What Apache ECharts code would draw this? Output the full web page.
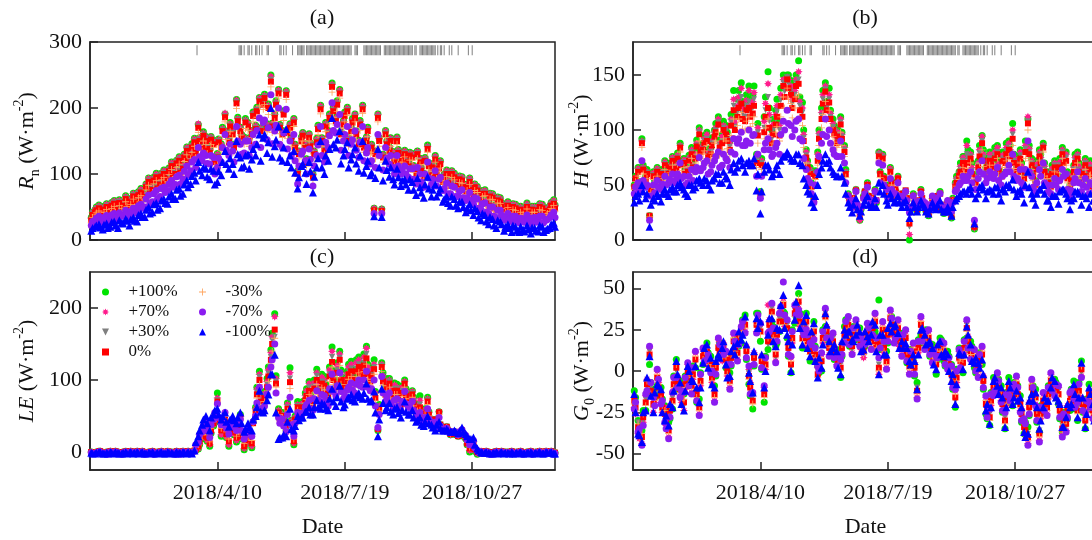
<!DOCTYPE html>
<html>
<head>
<meta charset="utf-8">
<script src="https://cdn.jsdelivr.net/npm/echarts@6.0.0/dist/echarts.min.js"></script>
<style>
  html, body { margin: 0; padding: 0; background: #fff; }
  #chart { width: 1092px; height: 540px; }
</style>
</head>
<body>
<div id="chart"></div>
<script>
// day of year (2018): two interleaved sample sets
var days = [
  1, 4, 7, 10, 13, 16, 19, 22, 25, 28,
  31, 34, 37, 40, 43, 46, 49, 52, 55, 58,
  61, 64, 67, 70, 73, 76, 79, 82, 85, 88,
  91, 94, 97, 100, 103, 106, 109, 112, 115, 118,
  121, 124, 127, 130, 133, 136, 139, 142, 145, 148,
  151, 154, 157, 160, 163, 166, 169, 172, 175, 178,
  181, 184, 187, 190, 193, 196, 199, 202, 205, 208,
  211, 214, 217, 220, 223, 226, 229, 232, 235, 238,
  241, 244, 247, 250, 253, 256, 259, 262, 265, 268,
  271, 274, 277, 280, 283, 286, 289, 292, 295, 298,
  301, 304, 307, 310, 313, 316, 319, 322, 325, 328,
  331, 334, 337, 340, 343, 346, 349, 352, 355, 358,
  361, 364
];
var daysMid = [
  2, 5, 8, 11, 14, 17, 20, 23, 26, 29,
  32, 35, 38, 41, 44, 47, 50, 53, 56, 59,
  62, 65, 68, 71, 74, 77, 80, 83, 86, 89,
  92, 95, 98, 101, 104, 107, 110, 113, 116, 119,
  122, 125, 128, 131, 134, 137, 140, 143, 146, 149,
  152, 155, 158, 161, 164, 167, 170, 173, 176, 179,
  182, 185, 188, 191, 194, 197, 200, 203, 206, 209,
  212, 215, 218, 221, 224, 227, 230, 233, 236, 239,
  242, 245, 248, 251, 254, 257, 260, 263, 266, 269,
  272, 275, 278, 281, 284, 287, 290, 293, 296, 299,
  302, 305, 308, 311, 314, 317, 320, 323, 326, 329,
  332, 335, 338, 341, 344, 347, 350, 353, 356, 359,
  362, 365
];
var tickDays = [100, 200, 300];
var tickLabels = ['2018/4/10', '2018/7/19', '2018/10/27'];

// rain days (rug at top of panels a and b)
var rainDays = [84, 117, 118, 119, 121, 124, 125, 127, 130, 131, 133, 135, 139, 140, 149, 150, 152, 154, 159,
  163, 164, 165, 166, 167, 168, 170, 171, 172, 173, 174, 175, 176, 177, 178, 179, 180, 181, 182, 183, 184, 185,
  186, 187, 188, 189, 190, 191, 192, 193, 194, 195, 196, 197, 198, 199, 200, 201, 202, 203, 204, 205, 208, 209,
  210, 215, 216, 217, 218, 219, 220, 221, 222, 223, 224, 225, 226, 227, 228, 231, 232, 233, 234, 235, 236, 237,
  238, 239, 240, 241, 242, 243, 244, 245, 246, 247, 248, 249, 250, 251, 252, 253, 255, 256, 259, 260, 261, 262,
  263, 264, 265, 266, 267, 268, 269, 270, 271, 273, 275, 276, 278, 282, 284, 289, 297, 300];

// ---------- (a) Rn ----------
var rnP100 = [
  34, 46, 53, 40, 55, 48, 60, 44, 57, 67,
  52, 71, 63, 78, 70, 94, 81, 101, 89, 106,
  97, 118, 106, 126, 114, 141, 134, 154, 175, 146,
  157, 138, 151, 131, 146, 191, 154, 166, 213, 171,
  156, 178, 166, 174, 216, 211, 176, 250, 191, 228,
  166, 226, 176, 184, 105, 156, 146, 161, 100, 154,
  204, 141, 166, 238, 186, 228, 181, 201, 171, 191,
  151, 204, 156, 141, 48, 191, 47, 166, 141, 134,
  156, 124, 136, 118, 131, 106, 124, 101, 144, 104,
  128, 114, 94, 106, 88, 101, 84, 96, 78, 94,
  72, 81, 64, 76, 58, 70, 51, 64, 46, 58,
  44, 54, 42, 48, 56, 40, 51, 44, 54, 46,
  52, 61
];
var rnP70 = [
  33, 45, 52, 39, 54, 47, 59, 43, 56, 66,
  51, 70, 62, 77, 69, 93, 80, 100, 88, 105,
  96, 117, 105, 125, 113, 140, 133, 153, 176, 145,
  156, 137, 150, 130, 145, 192, 153, 165, 212, 170,
  155, 177, 165, 173, 215, 210, 175, 248, 190, 227,
  165, 225, 175, 183, 104, 155, 145, 160, 99, 153,
  203, 140, 165, 236, 185, 227, 180, 200, 170, 190,
  150, 203, 155, 140, 48, 190, 47, 165, 140, 133,
  155, 123, 135, 117, 130, 105, 123, 100, 142, 103,
  127, 113, 93, 105, 87, 100, 83, 95, 77, 93,
  71, 80, 63, 75, 57, 69, 50, 63, 45, 57,
  43, 53, 41, 47, 55, 39, 50, 43, 53, 45,
  51, 60
];
var rnP30 = [
  31, 44, 50, 38, 52, 46, 57, 42, 54, 64,
  50, 68, 60, 74, 67, 90, 78, 97, 86, 102,
  94, 114, 102, 122, 110, 137, 130, 150, 172, 142,
  152, 134, 147, 127, 142, 188, 150, 162, 209, 167,
  152, 174, 162, 170, 212, 207, 172, 243, 187, 224,
  162, 222, 172, 180, 102, 152, 142, 157, 97, 150,
  200, 137, 162, 234, 182, 224, 177, 197, 167, 187,
  147, 200, 152, 137, 46, 187, 45, 162, 137, 130,
  152, 120, 132, 114, 127, 102, 120, 97, 140, 100,
  124, 110, 90, 102, 84, 97, 80, 92, 74, 90,
  68, 77, 60, 72, 54, 66, 47, 60, 42, 54,
  40, 50, 38, 44, 52, 36, 47, 40, 50, 42,
  48, 57
];
var rnZero = [
  30, 42, 48, 36, 50, 44, 55, 40, 52, 62,
  48, 66, 58, 72, 65, 88, 76, 95, 84, 100,
  92, 112, 100, 120, 108, 135, 128, 148, 170, 140,
  150, 132, 145, 125, 140, 186, 148, 160, 207, 165,
  150, 172, 160, 168, 210, 205, 170, 240, 185, 222,
  160, 220, 170, 178, 100, 150, 140, 155, 95, 148,
  198, 135, 160, 232, 180, 222, 175, 195, 165, 185,
  145, 198, 150, 135, 45, 185, 44, 160, 135, 128,
  150, 118, 130, 112, 125, 100, 118, 95, 138, 98,
  122, 108, 88, 100, 82, 95, 78, 90, 72, 88,
  66, 75, 58, 70, 52, 64, 45, 58, 40, 52,
  38, 48, 36, 42, 50, 34, 45, 38, 48, 40,
  46, 55
];
var rnM30 = [
  26, 38, 44, 33, 46, 40, 51, 37, 48, 58,
  44, 62, 54, 67, 61, 83, 72, 90, 80, 95,
  88, 107, 96, 115, 103, 129, 123, 142, 163, 135,
  145, 127, 140, 121, 135, 179, 143, 155, 199, 159,
  145, 166, 155, 162, 203, 198, 164, 232, 179, 215,
  155, 213, 165, 172, 96, 145, 135, 150, 91, 143,
  191, 130, 155, 224, 174, 215, 169, 189, 159, 179,
  140, 192, 145, 130, 43, 179, 42, 155, 130, 123,
  145, 114, 126, 108, 121, 96, 114, 92, 133, 95,
  118, 104, 85, 96, 79, 91, 75, 86, 69, 84,
  63, 72, 55, 67, 49, 61, 42, 55, 37, 49,
  35, 45, 33, 39, 47, 31, 42, 35, 45, 37,
  43, 52
];
var rnM70 = [
  22, 30, 36, 27, 37, 32, 40, 30, 38, 45,
  35, 48, 43, 54, 50, 68, 58, 75, 66, 80,
  75, 90, 84, 98, 92, 112, 105, 122, 140, 120,
  128, 115, 125, 110, 118, 160, 128, 135, 172, 145,
  132, 150, 140, 145, 185, 178, 152, 220, 165, 200,
  140, 198, 150, 160, 85, 130, 120, 138, 82, 128,
  172, 118, 140, 208, 162, 190, 150, 172, 145, 165,
  125, 172, 132, 115, 40, 160, 40, 140, 115, 110,
  128, 100, 112, 95, 108, 85, 100, 80, 118, 84,
  105, 92, 75, 86, 70, 80, 66, 76, 60, 72,
  54, 62, 46, 56, 40, 50, 34, 45, 30, 40,
  28, 36, 26, 32, 38, 25, 34, 28, 36, 30,
  34, 42
];
var rnM100 = [
  14, 20, 24, 16, 25, 20, 28, 18, 26, 32,
  22, 34, 28, 40, 35, 50, 42, 56, 48, 62,
  55, 70, 62, 78, 70, 90, 85, 102, 118, 98,
  108, 92, 105, 88, 98, 135, 108, 115, 150, 125,
  112, 130, 122, 128, 160, 155, 132, 200, 142, 172,
  120, 168, 128, 135, 78, 112, 102, 118, 72, 110,
  150, 100, 120, 185, 140, 165, 128, 148, 122, 140,
  105, 150, 112, 98, 36, 138, 35, 120, 96, 92,
  108, 82, 92, 76, 88, 68, 80, 64, 96, 66,
  84, 72, 58, 66, 52, 62, 48, 58, 42, 54,
  38, 44, 30, 38, 24, 32, 18, 28, 14, 24,
  12, 20, 12, 16, 22, 10, 18, 13, 20, 15,
  18, 26
];
var rnP100Mid = [
  42, 50, 44, 51, 43, 57, 51, 61, 53, 60,
  63, 59, 73, 67, 85, 75, 95, 83, 101, 93,
  109, 101, 121, 107, 130, 123, 146, 137, 155, 164,
  143, 157, 123, 153, 171, 165, 178, 145, 186, 160,
  184, 155, 194, 201, 170, 221, 206, 177, 211, 175,
  196, 167, 155, 145, 135, 163, 123, 147, 135, 174,
  155, 178, 191, 201, 211, 165, 194, 155, 184, 165,
  181, 145, 171, 145, 135, 155, 130, 150, 155, 123,
  137, 130, 123, 133, 113, 135, 110, 125, 117, 115,
  103, 120, 100, 91, 105, 87, 97, 85, 85, 81,
  85, 67, 75, 60, 71, 53, 65, 57, 51, 50,
  55, 45, 51, 43, 47, 51, 43, 55, 41, 49,
  57, 53
];
var rnP70Mid = [
  42, 49, 44, 50, 42, 56, 50, 60, 52, 59,
  62, 58, 72, 66, 84, 74, 94, 82, 100, 92,
  108, 100, 120, 106, 129, 122, 144, 136, 154, 162,
  142, 156, 122, 152, 169, 164, 176, 144, 184, 159,
  182, 154, 192, 199, 169, 219, 204, 176, 209, 174,
  194, 166, 154, 144, 134, 162, 122, 146, 134, 172,
  154, 176, 189, 199, 209, 164, 192, 154, 182, 164,
  179, 144, 169, 144, 134, 154, 129, 149, 154, 122,
  136, 129, 122, 132, 112, 134, 109, 124, 116, 114,
  102, 119, 99, 90, 104, 86, 96, 84, 84, 80,
  84, 66, 74, 59, 70, 52, 64, 56, 50, 49,
  54, 44, 50, 42, 46, 50, 42, 54, 40, 48,
  56, 52
];
var rnP30Mid = [
  40, 47, 42, 48, 40, 54, 48, 58, 50, 57,
  60, 56, 70, 64, 82, 72, 92, 80, 98, 90,
  106, 98, 118, 104, 127, 120, 142, 134, 152, 160,
  140, 154, 120, 150, 167, 162, 174, 142, 182, 157,
  180, 152, 190, 197, 167, 217, 202, 174, 207, 172,
  192, 164, 152, 142, 132, 160, 120, 144, 132, 170,
  152, 174, 187, 197, 207, 162, 190, 152, 180, 162,
  177, 142, 167, 142, 132, 152, 127, 147, 152, 120,
  134, 127, 120, 130, 110, 132, 107, 122, 114, 112,
  100, 117, 97, 88, 102, 84, 94, 82, 82, 78,
  82, 64, 72, 57, 68, 50, 62, 54, 48, 47,
  52, 42, 48, 40, 44, 48, 40, 52, 38, 46,
  54, 50
];
var rnZeroMid = [
  38, 45, 40, 46, 38, 52, 46, 56, 48, 55,
  58, 54, 68, 62, 80, 70, 90, 78, 96, 88,
  104, 96, 116, 102, 125, 118, 140, 132, 150, 158,
  138, 152, 118, 148, 165, 160, 172, 140, 180, 155,
  178, 150, 188, 195, 165, 215, 200, 172, 205, 170,
  190, 162, 150, 140, 130, 158, 118, 142, 130, 168,
  150, 172, 185, 195, 205, 160, 188, 150, 178, 160,
  175, 140, 165, 140, 130, 150, 125, 145, 150, 118,
  132, 125, 118, 128, 108, 130, 105, 120, 112, 110,
  98, 115, 95, 86, 100, 82, 92, 80, 80, 76,
  80, 62, 70, 55, 66, 48, 60, 52, 46, 45,
  50, 40, 46, 38, 42, 46, 38, 50, 36, 44,
  52, 48
];
var rnM30Mid = [
  34, 41, 36, 42, 34, 48, 42, 52, 44, 51,
  54, 50, 64, 58, 76, 66, 85, 74, 91, 84,
  99, 91, 110, 97, 119, 112, 133, 125, 143, 150,
  131, 145, 112, 141, 157, 152, 164, 133, 171, 147,
  169, 142, 179, 186, 157, 205, 190, 163, 195, 161,
  181, 154, 142, 133, 123, 150, 112, 135, 123, 160,
  142, 164, 176, 186, 195, 152, 179, 142, 169, 152,
  166, 133, 157, 133, 123, 142, 118, 138, 142, 112,
  125, 118, 112, 121, 102, 123, 99, 114, 106, 104,
  93, 109, 90, 81, 95, 77, 87, 75, 75, 72,
  75, 58, 66, 51, 62, 44, 56, 48, 42, 41,
  46, 36, 42, 34, 38, 42, 34, 46, 32, 40,
  48, 44
];
var rnM70Mid = [
  28, 33, 29, 34, 28, 38, 34, 41, 36, 41,
  43, 41, 52, 48, 62, 55, 70, 62, 78, 72,
  85, 80, 96, 85, 104, 98, 118, 110, 126, 132,
  116, 128, 100, 124, 140, 136, 145, 118, 150, 130,
  150, 128, 160, 166, 140, 182, 170, 146, 174, 145,
  162, 138, 128, 120, 112, 135, 100, 122, 112, 144,
  128, 148, 158, 166, 175, 136, 160, 128, 152, 136,
  148, 120, 140, 120, 110, 128, 106, 124, 128, 100,
  112, 106, 100, 108, 92, 110, 88, 100, 94, 92,
  82, 95, 78, 70, 82, 66, 74, 64, 64, 60,
  64, 48, 55, 42, 50, 36, 45, 38, 34, 32,
  36, 28, 33, 27, 30, 33, 27, 36, 26, 31,
  38, 34
];
var rnM100Mid = [
  18, 22, 19, 23, 18, 27, 22, 30, 25, 29,
  31, 29, 38, 35, 46, 40, 54, 46, 60, 56,
  66, 62, 76, 67, 84, 80, 97, 90, 105, 110,
  96, 108, 84, 104, 118, 115, 124, 100, 130, 110,
  128, 108, 138, 145, 120, 160, 148, 126, 152, 125,
  140, 118, 110, 102, 95, 115, 85, 104, 96, 124,
  110, 128, 138, 145, 152, 116, 138, 110, 130, 116,
  128, 102, 120, 102, 94, 110, 90, 106, 110, 84,
  95, 90, 84, 92, 76, 94, 72, 84, 78, 76,
  66, 78, 62, 56, 66, 52, 58, 50, 48, 45,
  48, 34, 40, 28, 35, 22, 30, 24, 20, 18,
  22, 14, 20, 13, 16, 19, 14, 22, 12, 17,
  24, 20
];

// ---------- (b) H ----------
var hP100 = [
  50, 66, 92, 58, 22, 62, 66, 55, 72, 64,
  76, 70, 88, 74, 66, 84, 80, 102, 88, 98,
  84, 100, 112, 96, 104, 90, 136, 128, 143, 124,
  140, 132, 78, 44, 112, 153, 100, 118, 108, 150,
  150, 145, 140, 163, 125, 82, 66, 38, 80, 120,
  143, 138, 110, 96, 112, 86, 42, 30, 46, 18,
  40, 52, 30, 46, 80, 78, 50, 66, 38, 58,
  34, 44, 0, 42, 26, 46, 30, 22, 38, 28,
  44, 24, 34, 20, 52, 62, 76, 90, 80, 10,
  72, 95, 66, 80, 70, 86, 62, 76, 90, 106,
  68, 82, 60, 110, 74, 54, 82, 88, 62, 52,
  72, 58, 84, 80, 50, 68, 80, 56, 74, 52,
  64, 60
];
var hP70 = [
  49, 65, 90, 57, 21, 61, 65, 54, 71, 63,
  75, 68, 86, 73, 65, 82, 78, 100, 86, 96,
  82, 98, 110, 94, 102, 88, 128, 122, 138, 118,
  136, 126, 76, 43, 108, 142, 96, 114, 104, 146,
  148, 140, 136, 153, 120, 80, 64, 37, 78, 116,
  140, 132, 106, 93, 110, 84, 41, 29, 46, 18,
  39, 51, 30, 45, 79, 77, 49, 65, 38, 57,
  34, 44, 5, 41, 27, 45, 31, 23, 38, 29,
  43, 25, 34, 21, 51, 61, 75, 86, 78, 11,
  70, 94, 64, 78, 68, 84, 60, 74, 88, 100,
  66, 80, 58, 112, 72, 53, 80, 86, 61, 51,
  70, 57, 82, 78, 49, 66, 78, 55, 72, 51,
  63, 58
];
var hP30 = [
  48, 63, 89, 56, 22, 59, 63, 53, 69, 61,
  73, 66, 85, 71, 63, 80, 76, 98, 84, 92,
  80, 96, 107, 90, 99, 85, 122, 116, 130, 112,
  126, 120, 73, 42, 102, 130, 92, 110, 100, 143,
  148, 136, 132, 146, 116, 77, 62, 36, 75, 113,
  137, 128, 103, 90, 107, 82, 40, 30, 45, 20,
  38, 50, 31, 44, 78, 76, 48, 63, 39, 56,
  35, 45, 12, 40, 28, 44, 32, 24, 38, 30,
  42, 26, 34, 22, 50, 60, 72, 78, 76, 12,
  68, 90, 62, 74, 66, 80, 59, 72, 84, 96,
  64, 77, 57, 108, 70, 51, 78, 85, 60, 49,
  68, 55, 80, 75, 47, 64, 76, 53, 70, 49,
  62, 56
];
var hZero = [
  48, 62, 88, 55, 22, 58, 62, 52, 68, 60,
  72, 65, 84, 70, 62, 78, 74, 96, 82, 90,
  78, 94, 105, 88, 96, 82, 118, 112, 124, 108,
  120, 115, 70, 42, 98, 120, 88, 105, 95, 140,
  146, 132, 128, 142, 112, 75, 60, 36, 72, 110,
  135, 125, 100, 88, 105, 80, 40, 30, 45, 22,
  38, 50, 32, 44, 76, 74, 48, 62, 40, 56,
  35, 45, 15, 40, 28, 44, 32, 24, 38, 30,
  42, 26, 34, 22, 48, 58, 70, 62, 74, 12,
  66, 88, 60, 72, 64, 78, 58, 70, 82, 92,
  62, 74, 56, 106, 68, 50, 76, 84, 58, 48,
  66, 54, 78, 72, 46, 62, 74, 52, 68, 48,
  60, 55
];
var hM30 = [
  46, 58, 84, 52, 21, 55, 58, 49, 64, 57,
  68, 61, 80, 66, 58, 74, 70, 90, 78, 86,
  74, 88, 98, 82, 90, 78, 110, 104, 116, 100,
  112, 106, 66, 40, 92, 110, 84, 98, 90, 130,
  138, 124, 120, 132, 104, 70, 56, 35, 68, 102,
  126, 118, 94, 84, 98, 76, 38, 29, 43, 22,
  36, 48, 32, 42, 72, 70, 46, 58, 40, 53,
  35, 44, 18, 38, 28, 42, 32, 25, 37, 30,
  40, 27, 33, 23, 46, 55, 66, 58, 70, 14,
  62, 82, 57, 68, 61, 74, 55, 66, 76, 86,
  59, 70, 53, 100, 64, 48, 72, 80, 56, 46,
  62, 51, 74, 68, 44, 58, 70, 50, 64, 46,
  57, 52
];
var hM70 = [
  42, 52, 72, 48, 18, 50, 54, 46, 58, 52,
  60, 55, 70, 58, 52, 64, 62, 75, 66, 72,
  62, 72, 80, 68, 74, 66, 92, 88, 98, 86,
  100, 95, 58, 38, 82, 92, 76, 84, 78, 108,
  118, 104, 100, 110, 90, 64, 52, 34, 62, 88,
  110, 100, 82, 76, 90, 70, 40, 30, 44, 26,
  38, 48, 34, 44, 70, 68, 46, 56, 42, 52,
  38, 44, 25, 40, 30, 42, 34, 28, 40, 32,
  42, 30, 36, 26, 44, 50, 58, 54, 62, 18,
  56, 72, 52, 62, 56, 66, 50, 60, 68, 78,
  54, 64, 48, 90, 58, 44, 64, 70, 50, 42,
  56, 46, 64, 60, 40, 52, 62, 44, 56, 42,
  50, 46
];
var hM100 = [
  34, 42, 50, 38, 12, 38, 42, 35, 46, 40,
  48, 44, 52, 46, 40, 50, 48, 56, 50, 54,
  46, 56, 60, 52, 58, 50, 70, 66, 74, 62,
  72, 68, 45, 24, 62, 68, 58, 64, 60, 76,
  80, 74, 72, 78, 68, 50, 42, 30, 50, 66,
  78, 72, 62, 58, 66, 52, 34, 25, 38, 22,
  32, 40, 30, 38, 52, 50, 36, 42, 34, 40,
  30, 36, 20, 34, 26, 36, 30, 24, 34, 28,
  36, 26, 30, 22, 36, 40, 44, 42, 48, 15,
  42, 50, 38, 46, 42, 48, 36, 44, 50, 55,
  40, 46, 34, 62, 42, 32, 46, 50, 36, 30,
  40, 33, 46, 42, 28, 38, 44, 32, 40, 30,
  36, 33
];
var hP100Mid = [
  58, 53, 68, 64, 48, 54, 60, 64, 62, 70,
  66, 79, 72, 64, 77, 70, 91, 86, 95, 82,
  93, 106, 91, 108, 98, 114, 112, 136, 126, 132,
  128, 140, 106, 74, 130, 120, 110, 128, 138, 146,
  150, 134, 150, 130, 100, 72, 52, 63, 100, 136,
  126, 118, 104, 100, 98, 64, 37, 38, 30, 28,
  44, 40, 36, 34, 62, 58, 40, 54, 45, 40,
  42, 36, 28, 32, 34, 36, 26, 30, 32, 40,
  30, 28, 26, 38, 58, 70, 76, 82, 70, 60,
  86, 82, 76, 76, 84, 72, 80, 88, 86, 78,
  76, 70, 90, 86, 64, 72, 78, 70, 58, 68,
  66, 74, 78, 62, 60, 78, 70, 66, 64, 72,
  58, 64
];
var hP70Mid = [
  57, 52, 66, 62, 47, 52, 58, 62, 60, 68,
  64, 77, 70, 62, 75, 68, 88, 83, 92, 79,
  90, 102, 88, 104, 95, 110, 107, 130, 120, 127,
  122, 134, 102, 72, 124, 114, 105, 122, 132, 140,
  146, 128, 146, 126, 96, 70, 50, 61, 97, 132,
  123, 115, 101, 98, 96, 62, 36, 38, 31, 29,
  44, 40, 37, 35, 61, 57, 40, 53, 46, 41,
  42, 37, 29, 33, 35, 37, 27, 31, 33, 40,
  31, 29, 27, 37, 56, 67, 72, 78, 66, 57,
  82, 78, 72, 73, 80, 69, 77, 84, 82, 75,
  73, 67, 86, 83, 62, 69, 75, 67, 56, 65,
  64, 71, 75, 60, 58, 75, 67, 64, 62, 69,
  56, 62
];
var hP30Mid = [
  56, 51, 65, 61, 46, 51, 57, 61, 59, 67,
  63, 75, 69, 61, 73, 67, 86, 81, 90, 77,
  88, 100, 86, 102, 92, 107, 103, 125, 115, 122,
  117, 128, 98, 70, 118, 108, 100, 117, 127, 135,
  142, 124, 143, 122, 93, 68, 49, 60, 94, 128,
  120, 112, 98, 96, 94, 61, 36, 38, 32, 30,
  44, 40, 38, 36, 60, 56, 40, 52, 46, 42,
  42, 38, 30, 34, 36, 38, 28, 32, 34, 40,
  32, 30, 28, 36, 54, 64, 68, 74, 63, 54,
  79, 75, 69, 70, 77, 66, 74, 81, 79, 72,
  70, 64, 83, 80, 60, 66, 72, 64, 54, 62,
  62, 68, 72, 58, 56, 72, 64, 62, 60, 66,
  54, 60
];
var hZeroMid = [
  56, 50, 64, 60, 45, 50, 56, 60, 58, 66,
  62, 74, 68, 60, 72, 66, 85, 80, 88, 76,
  86, 98, 84, 100, 90, 104, 100, 120, 110, 118,
  112, 122, 95, 68, 112, 102, 96, 112, 122, 130,
  138, 120, 140, 118, 90, 66, 48, 58, 92, 124,
  118, 110, 96, 94, 92, 60, 35, 38, 32, 30,
  44, 40, 38, 36, 60, 56, 40, 52, 46, 42,
  42, 38, 30, 34, 36, 38, 28, 32, 34, 40,
  32, 30, 28, 36, 52, 62, 66, 70, 60, 52,
  76, 72, 66, 68, 74, 64, 72, 78, 76, 70,
  68, 62, 80, 78, 58, 64, 70, 62, 52, 60,
  60, 66, 70, 56, 54, 70, 62, 60, 58, 64,
  52, 58
];
var hM30Mid = [
  53, 48, 60, 56, 43, 47, 52, 56, 54, 61,
  58, 69, 63, 56, 67, 61, 78, 74, 81, 70,
  79, 90, 77, 92, 83, 95, 92, 110, 101, 108,
  103, 112, 88, 64, 102, 94, 88, 103, 112, 120,
  128, 111, 130, 109, 84, 62, 46, 55, 86, 114,
  109, 102, 89, 87, 86, 57, 35, 37, 32, 30,
  42, 39, 37, 35, 57, 53, 39, 50, 44, 41,
  40, 37, 30, 33, 35, 37, 28, 31, 33, 38,
  32, 30, 28, 35, 49, 58, 61, 65, 56, 49,
  70, 67, 61, 63, 68, 59, 66, 72, 70, 65,
  63, 58, 74, 72, 54, 59, 65, 58, 49, 56,
  56, 61, 65, 52, 50, 65, 58, 56, 54, 59,
  49, 54
];
var hM70Mid = [
  48, 44, 54, 50, 40, 43, 48, 51, 50, 55,
  52, 60, 56, 50, 58, 54, 66, 63, 70, 60,
  68, 76, 66, 78, 72, 80, 78, 92, 86, 90,
  88, 96, 78, 58, 88, 82, 78, 88, 96, 100,
  106, 94, 108, 92, 74, 56, 42, 50, 76, 96,
  94, 88, 78, 76, 76, 52, 34, 36, 32, 30,
  42, 38, 36, 36, 52, 50, 38, 46, 42, 40,
  40, 36, 30, 34, 35, 36, 30, 32, 34, 38,
  32, 30, 30, 34, 46, 52, 54, 58, 52, 46,
  62, 60, 56, 57, 60, 54, 58, 62, 62, 58,
  56, 52, 64, 62, 48, 52, 58, 52, 44, 50,
  50, 54, 58, 46, 45, 56, 52, 50, 48, 52,
  44, 48
];
var hM100Mid = [
  40, 36, 44, 42, 32, 36, 40, 42, 42, 46,
  44, 50, 48, 42, 50, 46, 54, 52, 56, 50,
  54, 60, 52, 62, 56, 64, 62, 72, 68, 70,
  68, 74, 60, 44, 68, 64, 60, 68, 72, 76,
  78, 72, 78, 70, 56, 44, 34, 40, 60, 72,
  70, 66, 60, 58, 58, 42, 30, 32, 28, 26,
  36, 32, 32, 30, 44, 42, 32, 38, 36, 34,
  34, 30, 26, 30, 30, 32, 26, 28, 30, 32,
  28, 26, 26, 30, 38, 42, 44, 46, 42, 38,
  48, 46, 44, 45, 48, 42, 46, 50, 48, 46,
  44, 42, 50, 48, 38, 42, 46, 42, 36, 40,
  40, 44, 46, 38, 36, 44, 42, 40, 38, 42,
  36, 38
];

// ---------- (c) LE ----------
var leP100 = [
  0, -1, 1, -1, 0, 1, -1, 0, -1, 1,
  0, -1, 1, 0, -1, 0, 1, -1, 0, -1,
  1, 0, -1, 0, 1, -1, 0, 2, 4, 18,
  28, 8, 36, 82, 22, 40, 8, 34, 14, 52,
  3, 20, 6, 62, 112, 64, 102, 142, 192, 60,
  55, 30, 117, 10, 70, 62, 82, 98, 72, 115,
  92, 105, 84, 146, 100, 140, 94, 112, 126, 104,
  132, 118, 147, 110, 128, 30, 124, 90, 102, 78,
  94, 70, 100, 74, 85, 58, 78, 42, 76, 46,
  36, 56, 30, 35, 24, 28, 22, 28, 18, 0,
  8, -3, 0, -1, 0, -1, 1, 0, -1, 0,
  1, -1, 0, -1, 0, 1, -1, 0, -1, 1,
  0, -1
];
var leP70 = [
  0, -1, 0, -2, 0, 1, -1, 0, -1, 0,
  0, -1, 1, 0, -1, 0, 1, -1, 0, -1,
  0, 0, -1, 0, 1, -1, 0, 1, 5, 20,
  30, 10, 38, 75, 24, 42, 10, 36, 16, 50,
  5, 22, 8, 60, 108, 62, 98, 138, 188, 58,
  52, 34, 110, 12, 66, 58, 78, 95, 70, 110,
  88, 100, 80, 140, 96, 136, 90, 108, 122, 100,
  128, 112, 144, 106, 122, 31, 122, 86, 100, 76,
  90, 68, 98, 72, 84, 57, 72, 41, 74, 46,
  36, 56, 30, 35, 24, 28, 22, 29, 19, 2,
  10, -2, 1, -1, 0, -1, 1, 0, -1, 0,
  1, -1, 0, -1, 0, 1, -1, 0, -1, 1,
  0, -1
];
var leP30 = [
  0, -1, 1, -1, 0, 1, -1, 0, -2, 1,
  0, -1, 1, 0, -1, 0, 1, -1, 0, -1,
  1, 0, -1, 0, 1, -1, 0, 1, 7, 21,
  33, 11, 40, 72, 28, 44, 13, 37, 18, 49,
  6, 24, 10, 57, 104, 61, 94, 132, 160, 56,
  51, 36, 102, 14, 64, 56, 75, 90, 68, 106,
  84, 96, 78, 132, 93, 131, 88, 104, 116, 98,
  122, 108, 136, 102, 118, 32, 120, 83, 98, 74,
  88, 67, 96, 71, 82, 56, 66, 40, 72, 45,
  35, 55, 30, 35, 25, 28, 22, 30, 20, 4,
  11, -1, 1, -1, 0, -1, 1, 0, -1, 0,
  1, -1, 0, -1, 0, 1, -1, 0, -1, 1,
  0, -1
];
var leZero = [
  0, -1, 1, -2, 0, 1, -1, 0, -2, 1,
  0, -1, 1, 0, -2, 0, 1, -1, 0, -1,
  1, 0, -2, 0, 1, -1, 0, 2, 8, 22,
  35, 12, 40, 70, 30, 45, 15, 38, 20, 48,
  8, 25, 12, 55, 100, 60, 90, 128, 170, 55,
  50, 38, 97, 15, 62, 55, 72, 85, 65, 100,
  80, 92, 75, 125, 90, 128, 85, 100, 112, 95,
  118, 105, 130, 98, 115, 32, 118, 80, 95, 72,
  85, 65, 95, 70, 80, 55, 62, 40, 70, 45,
  35, 55, 30, 35, 25, 28, 22, 30, 20, 5,
  12, 0, 1, -1, 0, -2, 1, 0, -1, 0,
  1, -1, 0, -2, 0, 1, -1, 0, -1, 1,
  0, -2
];
var leM30 = [
  0, -1, 1, -2, 0, 1, -1, 0, -2, 1,
  0, -1, 1, 0, -2, 0, 1, -1, 0, -1,
  1, 0, -2, 0, 1, -1, 0, 2, 10, 24,
  38, 14, 42, 66, 33, 46, 18, 40, 22, 47,
  12, 27, 16, 52, 94, 58, 85, 122, 158, 52,
  48, 30, 88, 18, 58, 52, 68, 80, 62, 94,
  76, 86, 70, 118, 85, 120, 80, 94, 105, 90,
  110, 98, 122, 92, 108, 33, 112, 76, 90, 68,
  80, 62, 90, 66, 76, 52, 58, 40, 66, 43,
  34, 52, 30, 34, 26, 28, 23, 30, 21, 7,
  14, 1, 1, -1, 0, -2, 1, 0, -1, 0,
  1, -1, 0, -2, 0, 1, -1, 0, -1, 1,
  0, -2
];
var leM70 = [
  -1, -2, 0, -2, -1, 0, -2, -1, -3, 0,
  -1, -2, 0, -1, -3, -1, 0, -2, -1, -2,
  0, -1, -3, -1, 0, -2, -1, 1, 14, 28,
  42, 20, 45, 67, 38, 55, 25, 44, 30, 45,
  18, 32, 22, 50, 90, 56, 80, 118, 150, 48,
  46, 28, 76, 22, 55, 50, 62, 72, 58, 85,
  70, 78, 64, 108, 78, 110, 74, 86, 96, 82,
  100, 90, 112, 85, 100, 34, 105, 70, 82, 62,
  74, 58, 84, 62, 70, 48, 55, 38, 60, 42,
  32, 48, 30, 33, 27, 28, 24, 31, 23, 10,
  16, 2, 0, -2, -1, -3, 0, -1, -2, -1,
  0, -2, -1, -3, -1, 0, -2, -1, -2, 0,
  -1, -3
];
var leM100 = [
  -1, -2, 0, -2, -1, 0, -2, -1, -2, 0,
  -1, -2, 0, -1, -2, -1, 0, -2, -1, -2,
  0, -1, -2, -1, 0, -2, -1, 2, 22, 38,
  50, 30, 52, 60, 45, 55, 35, 50, 40, 55,
  28, 40, 30, 50, 85, 55, 72, 108, 135, 18,
  20, 22, 60, 30, 50, 48, 56, 62, 52, 72,
  60, 66, 58, 88, 64, 92, 62, 74, 80, 70,
  82, 74, 95, 70, 84, 22, 88, 58, 68, 52,
  62, 48, 70, 52, 58, 42, 48, 36, 50, 38,
  30, 42, 30, 32, 28, 30, 26, 34, 25, 18,
  20, 5, 0, -1, -1, -2, 0, -1, -2, -1,
  0, -2, -1, -2, -1, 0, -2, -1, -2, 0,
  -1, -2
];
var leP100Mid = [
  -1, 0, 1, -1, -1, 0, 1, -1, 0, -1,
  1, 0, -1, 1, -1, 0, -1, 0, 1, -1,
  0, -1, 1, -1, 0, 1, -1, 2, 10, 24,
  15, 26, 50, 42, 34, 20, 26, 24, 32, 18,
  10, 14, 42, 90, 78, 84, 118, 165, 106, 50,
  46, 68, 44, 50, 65, 70, 88, 80, 100, 97,
  108, 94, 118, 114, 124, 114, 104, 122, 116, 128,
  124, 136, 122, 118, 84, 66, 110, 102, 90, 96,
  84, 92, 88, 80, 76, 66, 52, 60, 56, 42,
  46, 38, 32, 30, 25, 24, 25, 22, 10, 4,
  1, -2, -1, 1, -1, 0, -1, 1, 0, -1,
  -1, 0, 1, -1, 0, -1, 0, 1, -1, 0,
  1, -1
];
var leP70Mid = [
  -1, 0, 1, -1, -1, 0, 1, -1, 0, -1,
  1, 0, -1, 1, -1, 0, -1, 0, 1, -1,
  0, -1, 1, -1, 0, 1, -1, 3, 11, 25,
  16, 27, 51, 43, 35, 21, 27, 25, 33, 19,
  11, 15, 41, 87, 75, 81, 114, 160, 102, 48,
  45, 66, 43, 48, 63, 68, 85, 77, 96, 93,
  104, 90, 114, 110, 120, 110, 100, 118, 112, 124,
  120, 132, 118, 114, 82, 64, 106, 98, 87, 93,
  82, 90, 85, 78, 74, 64, 51, 59, 55, 42,
  46, 38, 32, 30, 25, 24, 25, 23, 11, 5,
  2, -1, -1, 1, -1, 0, -1, 1, 0, -1,
  -1, 0, 1, -1, 0, -1, 0, 1, -1, 0,
  1, -1
];
var leP30Mid = [
  -1, 0, 1, -1, -2, 0, 1, -1, 0, -1,
  1, 0, -1, 1, -1, 0, -1, 0, 1, -1,
  0, -1, 1, -1, 0, 1, -1, 4, 13, 27,
  18, 29, 52, 44, 37, 23, 29, 27, 34, 21,
  13, 17, 40, 83, 72, 78, 109, 155, 98, 46,
  43, 62, 41, 46, 60, 64, 80, 72, 91, 88,
  98, 85, 108, 104, 114, 104, 95, 112, 106, 116,
  114, 124, 112, 108, 78, 62, 101, 93, 83, 88,
  78, 85, 81, 75, 70, 62, 49, 57, 53, 41,
  45, 38, 32, 30, 26, 25, 26, 24, 12, 7,
  3, 0, -1, 1, -2, 0, -1, 1, 0, -1,
  -1, 0, 1, -1, 0, -2, 0, 1, -1, 0,
  1, -1
];
var leZeroMid = [
  -1, 0, 1, -1, -2, 0, 1, -1, 0, -1,
  1, 0, -1, 1, -1, 0, -2, 0, 1, -1,
  0, -1, 1, -2, 0, 1, -1, 4, 15, 28,
  20, 30, 52, 45, 38, 25, 30, 28, 35, 22,
  15, 18, 40, 80, 70, 75, 105, 150, 95, 45,
  42, 60, 40, 45, 58, 62, 78, 70, 88, 85,
  95, 82, 105, 100, 110, 100, 92, 108, 102, 112,
  110, 120, 108, 105, 75, 60, 98, 90, 80, 85,
  75, 82, 78, 72, 68, 60, 48, 55, 52, 40,
  45, 38, 32, 30, 26, 25, 26, 24, 12, 8,
  4, 0, -1, 1, -2, 0, -1, 1, 0, -1,
  -1, 0, 1, -1, 0, -2, 0, 1, -1, 0,
  1, -1
];
var leM30Mid = [
  -1, 0, 1, -1, -2, 0, 1, -1, 0, -1,
  1, 0, -1, 1, -1, 0, -2, 0, 1, -1,
  0, -1, 1, -2, 0, 1, -1, 6, 18, 30,
  24, 33, 52, 46, 40, 28, 33, 31, 37, 25,
  18, 21, 40, 75, 66, 70, 98, 140, 90, 44,
  40, 57, 39, 43, 55, 58, 73, 66, 82, 80,
  89, 77, 98, 94, 103, 94, 86, 101, 96, 105,
  103, 112, 101, 98, 71, 57, 92, 84, 75, 80,
  71, 77, 74, 68, 64, 57, 46, 52, 50, 39,
  44, 37, 31, 30, 27, 26, 27, 25, 14, 10,
  5, 1, -1, 1, -2, 0, -1, 1, 0, -1,
  -1, 0, 1, -1, 0, -2, 0, 1, -1, 0,
  1, -1
];
var leM70Mid = [
  -2, -1, 0, -2, -3, -1, 0, -2, -1, -2,
  0, -1, -2, 0, -2, -1, -3, -1, 0, -2,
  -1, -2, 0, -3, -1, 0, -2, 10, 24, 36,
  30, 38, 55, 48, 44, 33, 37, 35, 40, 30,
  24, 26, 42, 68, 60, 64, 90, 128, 82, 40,
  36, 52, 38, 40, 50, 54, 66, 60, 74, 72,
  80, 70, 88, 84, 92, 84, 78, 90, 86, 94,
  92, 100, 90, 88, 64, 52, 82, 76, 68, 72,
  64, 70, 67, 62, 58, 52, 43, 48, 46, 37,
  42, 36, 31, 30, 28, 27, 28, 26, 17, 12,
  6, 1, -2, 0, -3, -1, -2, 0, -1, -2,
  -2, -1, 0, -2, -1, -3, -1, 0, -2, -1,
  0, -2
];
var leM100Mid = [
  -2, -1, 0, -2, -2, -1, 0, -2, -1, -2,
  0, -1, -2, 0, -2, -1, -2, -1, 0, -2,
  -1, -2, 0, -2, -1, 0, -2, 14, 30, 45,
  40, 48, 58, 52, 50, 42, 45, 44, 48, 40,
  32, 34, 45, 62, 56, 58, 80, 108, 55, 20,
  24, 42, 32, 36, 44, 48, 56, 52, 62, 62,
  68, 60, 74, 70, 76, 70, 66, 76, 72, 78,
  76, 82, 74, 72, 55, 45, 68, 62, 56, 60,
  54, 58, 56, 52, 48, 44, 38, 42, 40, 34,
  38, 33, 30, 30, 28, 28, 28, 27, 22, 18,
  10, 2, -1, 0, -2, -1, -2, 0, -1, -2,
  -2, -1, 0, -2, -1, -2, -1, 0, -2, -1,
  0, -2
];

// ---------- (d) G0 ----------
var gP100 = [
  -12, -30, -36, -24, 4, -14, -9, -10, -21, -31,
  -23, 7, -6, -14, -5, -4, 2, -17, 4, 17,
  9, -9, 8, 15, 2, -1, 12, 16, 17, 34,
  -8, -23, 35, 18, -19, 13, 30, 15, 24, 36,
  20, -1, 29, 47, 14, 35, 6, 30, 3, 0,
  27, 19, 12, 13, -4, 27, 22, 20, 20, 26,
  18, 18, 24, 24, 43, 19, 12, 26, 28, 20,
  20, 14, 9, 6, -7, 22, 24, 14, 16, -2,
  20, 6, 12, 4, -22, 14, -1, 20, 18, 2,
  7, 4, -26, -33, -4, -12, -9, -35, -4, -21,
  -14, -15, -38, -34, -16, -11, -37, -24, -17, -12,
  -5, -20, -37, -27, -24, -6, -30, 6, -35, -8,
  -19, -26
];
var gP70 = [
  -22, -38, -44, -15, 14, -25, 0, -19, -22, -40,
  -14, -3, -15, -24, 4, -13, 11, -26, 13, 8,
  0, -18, 19, 6, 11, -10, 22, 7, 26, 24,
  1, -14, 24, 28, -10, 40, 40, 6, 34, 44,
  30, 8, 39, 38, 24, 26, 16, 20, 2, 10,
  37, 10, 22, 4, 6, 18, 32, 11, 30, 16,
  8, 28, 14, 34, -2, 29, 2, 36, 18, 30,
  10, 24, -1, 16, -16, 32, 14, 24, 6, 8,
  10, 16, 2, 2, -12, 12, 9, 30, 8, 12,
  -3, 14, -16, -24, -14, -2, -18, -26, -14, -12,
  -4, -24, -30, -44, -6, -20, -42, -14, -26, -2,
  -14, -10, -39, -36, -14, -16, -20, -3, -26, -18,
  -28, -16
];
var gP30 = [
  -16, -31, -42, -17, 12, -18, -6, -13, -28, -34,
  -16, 0, -9, -21, 2, -7, 5, -20, 11, 10,
  6, -12, 12, 12, 5, -4, 16, 13, 20, 30,
  -1, -16, 26, 26, -12, 16, 38, 8, 32, 38,
  28, 2, 37, 40, 22, 28, 14, 22, 0, 4,
  35, 12, 20, 6, 4, 20, 30, 13, 28, 18,
  14, 22, 20, 28, 4, 23, 8, 30, 24, 24,
  16, 18, 5, 10, -10, 26, 20, 18, 12, 2,
  16, 10, 8, -4, -18, 10, 3, 28, 14, 6,
  3, 8, -22, -26, -12, -4, -16, -28, -12, -14,
  -10, -18, -36, -38, -12, -14, -36, -20, -20, -8,
  -12, -12, -33, -34, -16, -14, -22, -1, -32, -12,
  -22, -22
];
var gZero = [
  -18, -34, -40, -19, 10, -20, -4, -15, -26, -36,
  -18, 2, -11, -19, 0, -9, 7, -22, 9, 12,
  4, -14, 14, 10, 7, -6, 18, 11, 22, 28,
  -3, -18, 28, 24, -14, 18, 36, 10, 30, 40,
  26, 4, 35, 42, 20, 30, 12, 24, -2, 6,
  33, 14, 18, 8, 2, 22, 28, 15, 26, 20,
  12, 24, 18, 30, 2, 25, 6, 32, 22, 26,
  14, 20, 3, 12, -12, 28, 18, 20, 10, 4,
  14, 12, 6, -2, -16, 8, 5, 26, 12, 8,
  1, 10, -20, -28, -10, -6, -14, -30, -10, -16,
  -8, -20, -34, -40, -10, -16, -38, -18, -22, -6,
  -10, -14, -35, -32, -18, -12, -24, 1, -30, -14,
  -24, -20
];
var gM30 = [
  -20, -32, -38, -21, 8, -22, -2, -17, -24, -38,
  -20, 4, -13, -17, -2, -11, 9, -24, 7, 14,
  2, -16, 16, 8, 9, -8, 20, 9, 24, 26,
  -5, -20, 30, 22, -16, 20, 34, 12, 28, 42,
  24, 6, 33, 44, 18, 32, 10, 26, -4, 8,
  31, 16, 16, 10, 0, 24, 26, 17, 24, 22,
  10, 26, 16, 32, 0, 27, 4, 34, 20, 28,
  12, 22, 1, 14, -14, 30, 16, 22, 8, 6,
  12, 14, 4, 0, -14, 6, 7, 24, 10, 10,
  -1, 12, -18, -30, -8, -8, -12, -32, -8, -18,
  -6, -22, -32, -42, -8, -18, -40, -16, -24, -4,
  -8, -16, -37, -30, -20, -10, -26, 3, -28, -16,
  -26, -18
];
var gM70 = [
  -23, -37, -45, -14, 15, -16, 1, -20, -31, -41,
  -13, -4, -16, -13, 5, -14, 12, -27, 14, 7,
  -1, -19, 20, 15, 12, -11, 23, 6, 27, 23,
  3, -13, 23, 29, -9, 23, 41, 5, 35, 54,
  31, 9, 40, 37, 25, 25, 17, 19, 3, 11,
  38, 9, 23, 3, 7, 17, 33, 10, 31, 15,
  17, 29, 13, 35, 8, 30, 1, 37, 17, 31,
  9, 25, -2, 17, -17, 33, 13, 25, 5, 9,
  9, 17, 1, 3, -11, 13, 10, 31, 7, 13,
  -4, 15, -15, -23, -15, -1, -19, -25, -15, -11,
  -3, -25, -29, -45, -5, -21, -43, -13, -27, -1,
  -15, -9, -40, -37, -13, -17, -19, -4, -25, -19,
  -29, -15
];
var gM100 = [
  -14, -38, -43, -24, 9, -25, -8, -11, -30, -33,
  -22, 6, -7, -24, 3, -5, 3, -19, 5, 16,
  8, -10, 10, 14, 4, -3, 15, 17, 19, 33,
  -1, -13, 32, 30, -10, 22, 32, 15, 25, 46,
  22, 0, 31, 52, 16, 34, 9, 29, -4, 2,
  35, 18, 14, 12, -2, 25, 24, 19, 22, 24,
  13, 21, 22, 28, -2, 22, 10, 29, 27, 23,
  18, 17, 6, 10, -11, 25, 22, 17, 14, 1,
  18, 9, 10, -6, -20, 11, 1, 27, 16, 5,
  5, 7, -24, -32, -6, -9, -10, -34, -6, -20,
  -12, -16, -37, -38, -14, -13, -35, -22, -18, -10,
  -6, -18, -34, -28, -22, -8, -28, 5, -34, -10,
  -20, -24
];
var gP100Mid = [
  -16, -33, -24, -13, -7, -11, -15, -17, -25, -29,
  -3, -11, -11, -3, -9, 3, -19, -1, 5, 11,
  1, -3, 17, 9, 5, 3, 19, 15, 31, 7,
  -15, 3, 35, 1, 9, 23, 27, 17, 30, 35,
  9, 25, 33, 35, 21, 23, 15, 15, -1, 25,
  19, 21, 7, 11, 9, 31, 15, 27, 19, 21,
  15, 27, 21, 21, 13, 19, 17, 33, 19, 23,
  23, 5, 13, -3, 19, 17, 25, 9, 13, 7,
  19, 3, 9, -11, 1, 1, 19, 13, 15, -1,
  11, -11, -29, -13, -13, -5, -25, -13, -19, -7,
  -9, -31, -31, -27, -9, -31, -21, -25, -9, -13,
  -7, -29, -25, -29, -11, -23, -7, -25, -17, -23,
  -21, -21
];
var gP70Mid = [
  -26, -41, -31, -5, -15, -19, -7, -25, -33, -21,
  -11, -3, -19, -11, -1, -5, -11, -9, 13, 3,
  -7, 5, 9, 17, -3, 11, 11, 23, 23, 15,
  -7, 11, 27, 9, 1, 31, 19, 25, 38, 27,
  17, 17, 41, 27, 29, 15, 23, 7, 7, 17,
  27, 13, 15, 3, 17, 23, 23, 19, 27, 13,
  23, 19, 29, 13, 21, 11, 25, 25, 27, 15,
  15, 13, 5, 5, 11, 25, 17, 17, 5, 15,
  11, 11, 1, -3, -7, 9, 11, 21, 7, 7,
  3, -3, -21, -21, -5, -13, -17, -21, -11, -15,
  -17, -23, -39, -19, -17, -23, -29, -17, -17, -5,
  -15, -21, -33, -21, -19, -15, -15, -17, -25, -15,
  -29, -13
];
var gP30Mid = [
  -20, -36, -30, -10, -10, -14, -12, -20, -28, -26,
  -6, -8, -14, -6, -6, 0, -12, -4, 8, 8,
  -2, 0, 14, 12, 2, 6, 16, 18, 28, 10,
  -12, 6, 32, 4, 6, 26, 24, 20, 33, 32,
  12, 22, 36, 32, 24, 20, 18, 12, 2, 22,
  22, 18, 10, 8, 12, 28, 18, 24, 22, 18,
  18, 24, 24, 18, 16, 16, 20, 30, 22, 20,
  20, 8, 10, 0, 16, 20, 22, 12, 10, 10,
  16, 6, 6, -8, -2, 4, 16, 16, 12, 2,
  8, -8, -26, -16, -10, -8, -22, -16, -16, -10,
  -12, -28, -34, -24, -12, -28, -24, -22, -12, -10,
  -10, -26, -28, -26, -14, -20, -10, -22, -20, -20,
  -24, -18
];
var gZeroMid = [
  -22, -38, -28, -8, -12, -16, -10, -22, -30, -24,
  -8, -6, -16, -8, -4, -2, -14, -6, 10, 6,
  -4, 2, 12, 14, 0, 8, 14, 20, 26, 12,
  -10, 8, 30, 6, 4, 28, 22, 22, 35, 30,
  14, 20, 38, 30, 26, 18, 20, 10, 4, 20,
  24, 16, 12, 6, 14, 26, 20, 22, 24, 16,
  20, 22, 26, 16, 18, 14, 22, 28, 24, 18,
  18, 10, 8, 2, 14, 22, 20, 14, 8, 12,
  14, 8, 4, -6, -4, 6, 14, 18, 10, 4,
  6, -6, -24, -18, -8, -10, -20, -18, -14, -12,
  -14, -26, -36, -22, -14, -26, -26, -20, -14, -8,
  -12, -24, -30, -24, -16, -18, -12, -20, -22, -18,
  -26, -16
];
var gM30Mid = [
  -24, -40, -26, -6, -14, -18, -8, -24, -32, -22,
  -10, -4, -18, -10, -2, -4, -16, -8, 12, 4,
  -6, 4, 10, 16, -2, 10, 12, 22, 24, 14,
  -8, 10, 28, 8, 2, 30, 20, 24, 37, 28,
  16, 18, 40, 28, 28, 16, 22, 8, 6, 18,
  26, 14, 14, 4, 16, 24, 22, 20, 26, 14,
  22, 20, 28, 14, 20, 12, 24, 26, 26, 16,
  16, 12, 6, 4, 12, 24, 18, 16, 6, 14,
  12, 10, 2, -4, -6, 8, 12, 20, 8, 6,
  4, -4, -22, -20, -6, -12, -18, -20, -12, -14,
  -16, -24, -38, -20, -16, -24, -28, -18, -16, -6,
  -14, -22, -32, -22, -18, -16, -14, -18, -24, -16,
  -28, -14
];
var gM70Mid = [
  -19, -35, -33, -12, -7, -21, -5, -18, -35, -28,
  -4, -10, -12, -4, -9, 2, -18, -2, 6, 10,
  0, -2, 16, 10, 4, 4, 18, 16, 30, 8,
  -14, 4, 34, 2, 8, 24, 26, 18, 39, 34,
  10, 24, 34, 34, 22, 22, 16, 14, 0, 24,
  20, 20, 8, 10, 10, 30, 16, 26, 20, 20,
  16, 26, 22, 20, 14, 18, 18, 32, 20, 22,
  22, 6, 12, -2, 18, 18, 24, 10, 12, 8,
  18, 4, 8, -10, 0, 2, 18, 14, 14, 0,
  10, -10, -28, -14, -12, -6, -24, -14, -18, -8,
  -10, -30, -32, -26, -10, -30, -22, -24, -10, -12,
  -8, -28, -26, -28, -12, -22, -8, -24, -18, -22,
  -22, -20
];
var gM100Mid = [
  -25, -39, -25, -4, -15, -13, -9, -25, -27, -20,
  -12, -2, -20, -12, 0, -6, -10, -10, 14, 2,
  -8, 6, 8, 18, -4, 12, 10, 24, 22, 16,
  -6, 12, 26, 10, 0, 32, 18, 26, 40, 26,
  18, 16, 42, 26, 30, 14, 24, 6, 8, 16,
  28, 12, 16, 2, 18, 22, 24, 18, 28, 12,
  24, 18, 30, 12, 22, 10, 26, 24, 28, 14,
  14, 14, 4, 6, 10, 26, 16, 18, 4, 16,
  10, 12, 0, -2, -8, 10, 10, 22, 6, 8,
  2, -2, -20, -22, -4, -14, -16, -22, -10, -16,
  -18, -22, -40, -18, -18, -22, -30, -16, -18, -4,
  -16, -20, -34, -20, -20, -14, -16, -16, -26, -14,
  -30, -12
];

var FONT = "'Liberation Serif', 'DejaVu Serif', serif";
var INK = '#111';

var markers = [
  { name: '+100%', symbol: 'circle', size: 7, color: '#00e400' },
  { name: '+70%', symbol: 'path://M5,0L6.2,2.5L8.5,1.5L7.5,3.8L10,5L7.5,6.2L8.5,8.5L6.2,7.5L5,10L3.8,7.5L1.5,8.5L2.5,6.2L0,5L2.5,3.8L1.5,1.5L3.8,2.5Z', size: 8, color: '#ff1a8c' },
  { name: '+30%', symbol: 'path://M0,0H10L5,10Z', size: 6, color: '#7f7f7f' },
  { name: '0%', symbol: 'path://M0,0H10V10H0Z', size: 6, color: '#ff0000' },
  { name: '-30%', symbol: 'path://M4.4,0H5.6V4.4H10V5.6H5.6V10H4.4V5.6H0V4.4H4.4Z', size: 7, color: '#ffa35c' },
  { name: '-70%', symbol: 'circle', size: 7, color: '#8b1cf0' },
  { name: '-100%', symbol: 'path://M5,0L10,10H0Z', size: 8, color: '#0000ff' }
];

var panels = [
  { sets: [rnP100, rnP70, rnP30, rnZero, rnM30, rnM70, rnM100],
    mids: [rnP100Mid, rnP70Mid, rnP30Mid, rnZeroMid, rnM30Mid, rnM70Mid, rnM100Mid],
    min: 0, max: 300, ticks: [0, 100, 200, 300], nameGap: 48,
    name: '{i|R}{sub|n} (W·m{sup|-2})', title: '(a)', titleY: 18, rug: true, bottom: false },
  { sets: [hP100, hP70, hP30, hZero, hM30, hM70, hM100],
    mids: [hP100Mid, hP70Mid, hP30Mid, hZeroMid, hM30Mid, hM70Mid, hM100Mid],
    min: 0, max: 180, ticks: [0, 50, 100, 150], nameGap: 36,
    name: '{i|H} (W·m{sup|-2})', title: '(b)', titleY: 18, rug: true, bottom: false },
  { sets: [leP100, leP70, leP30, leZero, leM30, leM70, leM100],
    mids: [leP100Mid, leP70Mid, leP30Mid, leZeroMid, leM30Mid, leM70Mid, leM100Mid],
    min: -25, max: 250, ticks: [0, 100, 200], nameGap: 48,
    name: '{i|LE} (W·m{sup|-2})', title: '(c)', titleY: 257, rug: false, bottom: true },
  { sets: [gP100, gP70, gP30, gZero, gM30, gM70, gM100],
    mids: [gP100Mid, gP70Mid, gP30Mid, gZeroMid, gM30Mid, gM70Mid, gM100Mid],
    min: -60, max: 60, ticks: [-50, -25, 0, 25, 50], nameGap: 36,
    name: '{i|G}{sub|0} (W·m{sup|-2})', title: '(d)', titleY: 257, rug: false, bottom: true }
];

var gridBoxes = [
  { left: 90, top: 42 }, { left: 633, top: 42 },
  { left: 90, top: 272 }, { left: 633, top: 272 }
];

function pairs(xs, vals) {
  return xs.map(function (d, i) { return [d, vals[i]]; });
}

var lineStyle = { color: '#222', width: 1.5 };

var grids = [], xAxes = [], yAxes = [], series = [], graphics = [];

panels.forEach(function (p, i) {
  var box = gridBoxes[i];
  grids.push({
    left: box.left, top: box.top, width: 465, height: 198,
    show: true, borderColor: '#222', borderWidth: 1.5,
    outerBoundsMode: 'none'
  });
  xAxes.push({
    type: 'value', gridIndex: i, min: 0, max: 365,
    axisLine: { show: true, onZero: false, lineStyle: lineStyle },
    axisTick: { show: true, inside: true, length: 8, customValues: tickDays, lineStyle: lineStyle },
    axisLabel: {
      show: p.bottom, customValues: tickDays, margin: 12,
      fontSize: 22, fontFamily: FONT, color: INK,
      formatter: function (v) { return tickLabels[tickDays.indexOf(v)] || ''; }
    },
    splitLine: { show: false },
    name: p.bottom ? 'Date' : '', nameLocation: 'middle', nameGap: 46, nameMoveOverlap: false,
    nameTextStyle: { fontSize: 22, fontFamily: FONT, color: INK }
  });
  yAxes.push({
    type: 'value', gridIndex: i, min: p.min, max: p.max,
    axisLine: { show: true, onZero: false, lineStyle: lineStyle },
    axisTick: { show: true, inside: true, length: 8, customValues: p.ticks, lineStyle: lineStyle },
    axisLabel: { customValues: p.ticks, margin: 8, fontSize: 22, fontFamily: FONT, color: INK },
    splitLine: { show: false },
    name: p.name, nameLocation: 'middle', nameGap: p.nameGap, nameMoveOverlap: false,
    nameTextStyle: {
      fontSize: 22, fontFamily: FONT, color: INK, lineHeight: 30,
      rich: {
        i: { fontSize: 22, fontFamily: FONT, fontStyle: 'italic', color: INK },
        sub: { fontSize: 14, fontFamily: FONT, color: INK, verticalAlign: 'bottom', lineHeight: 14 },
        sup: { fontSize: 14, fontFamily: FONT, color: INK, verticalAlign: 'top', lineHeight: 14 }
      }
    }
  });
  markers.forEach(function (m, s) {
    series.push({
      type: 'scatter', name: m.name, xAxisIndex: i, yAxisIndex: i,
      data: pairs(days, p.sets[s]).concat(pairs(daysMid, p.mids[s])),
      symbol: m.symbol, symbolSize: m.size,
      itemStyle: { color: m.color, opacity: 1 },
      silent: true
    });
  });
  if (p.rug) {
    var rugY = p.max * 0.958;
    series.push({
      type: 'scatter', name: 'rain', xAxisIndex: i, yAxisIndex: i,
      data: rainDays.map(function (d) { return [d, rugY]; }),
      symbol: 'rect', symbolSize: [1, 10],
      itemStyle: { color: '#555', opacity: 0.75 },
      silent: true
    });
  }
  graphics.push({
    type: 'text', x: box.left + 232, y: p.titleY,
    style: { text: p.title, fontSize: 22, fontFamily: FONT, fill: INK, align: 'center', verticalAlign: 'middle' }
  });
});

var legendText = { fontSize: 17, fontFamily: FONT, color: INK, lineHeight: 20 };

var chart = echarts.init(document.getElementById('chart'), null, { renderer: 'canvas' });
chart.setOption({
  animation: false,
  backgroundColor: '#fff',
  grid: grids,
  xAxis: xAxes,
  yAxis: yAxes,
  legend: [
    { data: ['+100%', '+70%', '+30%', '0%'], orient: 'vertical', left: 97, top: 277,
      itemWidth: 36, itemHeight: 7, itemGap: 0, selectedMode: false, textStyle: legendText },
    { data: ['-30%', '-70%', '-100%'], orient: 'vertical', left: 194, top: 277,
      itemWidth: 36, itemHeight: 7, itemGap: 0, selectedMode: false, textStyle: legendText }
  ],
  graphic: graphics,
  series: series
});
</script>
</body>
</html>
